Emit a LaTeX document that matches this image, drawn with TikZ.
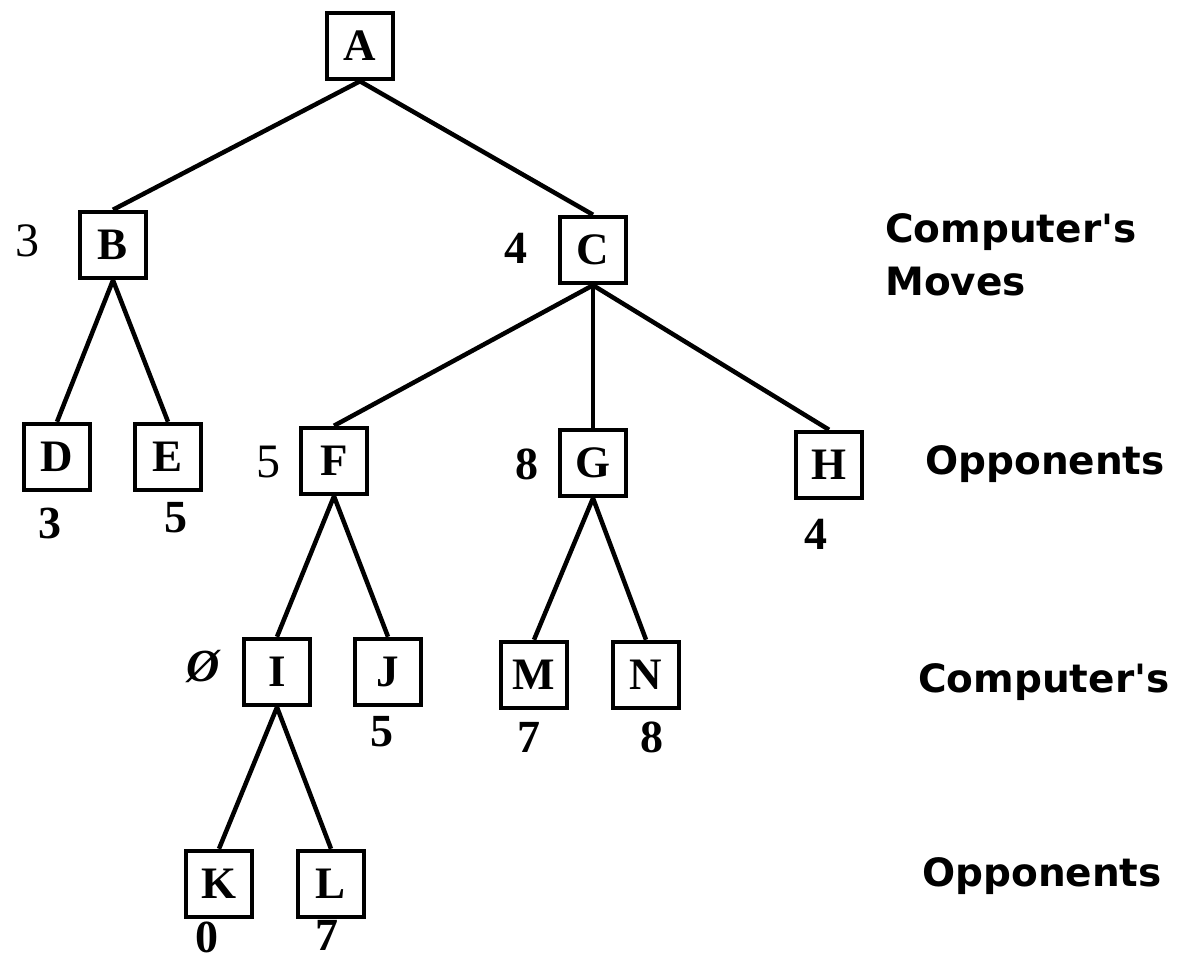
\documentclass[tikz,border=0pt]{standalone}
\usepackage{fontspec}
\setmainfont{Liberation Serif}
\newfontfamily\labelfont{DejaVu Sans}
\begin{document}
\begin{tikzpicture}[x=1pt,y=-1pt,
  nodebox/.style={draw, line width=4.5pt, minimum width=66pt, minimum height=66pt, inner sep=0pt,
    font=\fontsize{45}{50}\selectfont\bfseries},
  edge/.style={line width=4.5pt},
  numreg/.style={font=\fontsize{48}{54}\selectfont, inner sep=0pt},
  numbold/.style={font=\fontsize{46}{52}\selectfont\bfseries, inner sep=0pt},
  side/.style={font=\labelfont\fontsize{39}{45}\selectfont\bfseries, anchor=base west, inner sep=0pt}]
\useasboundingbox (0,0) rectangle (1182,963);
\fill[white] (0,0) rectangle (1182,963);
% tree nodes
\node[nodebox] (A) at (360,46) {A};
\node[nodebox] (B) at (113,245) {B};
\node[nodebox] (C) at (593,250) {C};
\node[nodebox] (D) at (57,457) {D};
\node[nodebox] (E) at (168,457) {E};
\node[nodebox] (F) at (334,461) {F};
\node[nodebox] (G) at (593,463) {G};
\node[nodebox] (H) at (829,465) {H};
\node[nodebox] (I) at (277,672) {I};
\node[nodebox] (J) at (388,672) {J};
\node[nodebox] (M) at (534,675) {M};
\node[nodebox] (N) at (646,675) {N};
\node[nodebox] (K) at (219,884) {K};
\node[nodebox] (L) at (331,884) {L};
% edges
\draw[edge] (A.south) -- (B.north);
\draw[edge] (A.south) -- (C.north);
\draw[edge] (B.south) -- (D.north);
\draw[edge] (B.south) -- (E.north);
\draw[edge] (C.south) -- (F.north);
\draw[edge] (C.south) -- (G.north);
\draw[edge] (C.south) -- (H.north);
\draw[edge] (F.south) -- (I.north);
\draw[edge] (F.south) -- (J.north);
\draw[edge] (G.south) -- (M.north);
\draw[edge] (G.south) -- (N.north);
\draw[edge] (I.south) -- (K.north);
\draw[edge] (I.south) -- (L.north);
% values beside nodes
\node[numreg] (vB) at (27,241) {3};
\node[numbold] (vC) at (516,248) {4};
\node[numreg] (vF) at (268,462) {5};
\node[numbold] (vG) at (527,464) {8};
\node[numbold] (vI) at (203,666) {\itshape Ø};
% values below leaves
\node[numbold] (vD) at (50,523) {3};
\node[numbold] (vE) at (176,518) {5};
\node[numbold] (vH) at (816,534) {4};
\node[numbold] (vJ) at (382,732) {5};
\node[numbold] (vM) at (529,737) {7};
\node[numbold] (vN) at (652,737) {8};
\node[numbold] (vK) at (207,937) {0};
\node[numbold] (vL) at (327,935) {7};
% level labels
\node[side] (l1a) at (885,242) {Computer's};
\node[side] (l1b) at (885,295) {Moves};
\node[side] (l2) at (925,474) {Opponents};
\node[side] (l3) at (918,692) {Computer's};
\node[side] (l4) at (922,886) {Opponents};
\end{tikzpicture}
\end{document}
